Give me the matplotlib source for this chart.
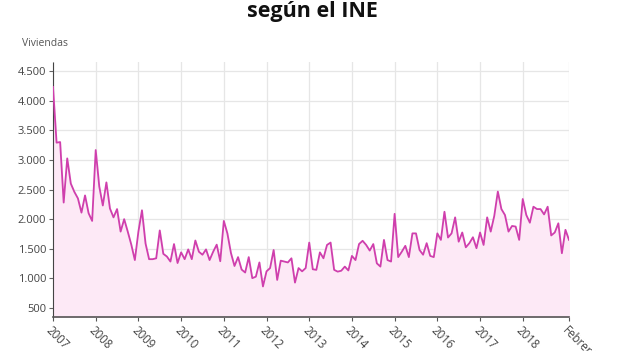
import matplotlib.pyplot as plt
import numpy as np

plt.rcParams['font.family'] = ['Open Sans', 'DejaVu Sans']

# monthly dwellings, Jan 2007 .. Feb 2019
viviendas = [
    4230, 3290, 3300, 2280, 3025, 2600, 2460, 2350, 2110, 2400, 2100, 1970,
    3165, 2550, 2230, 2620, 2180, 2030, 2170, 1790, 2000, 1790, 1570, 1310,
    1790, 2150, 1590, 1325, 1325, 1340, 1810, 1415, 1370, 1285, 1580, 1260,
    1440, 1325, 1490, 1325, 1640, 1450, 1400, 1490, 1310, 1450, 1570, 1290,
    1970, 1760, 1430, 1210, 1360, 1150, 1100, 1360, 1005, 1030, 1270, 865,
    1120, 1175, 1480, 975, 1300, 1285, 1270, 1340, 930, 1175, 1120, 1175,
    1605, 1155, 1145, 1440, 1340, 1565, 1605, 1145, 1115, 1130, 1200, 1135,
    1380, 1310, 1580, 1635, 1565, 1470, 1580, 1255, 1200, 1650, 1310, 1285,
    2090, 1360, 1450, 1550, 1360, 1760, 1760, 1480, 1400, 1595, 1380, 1360,
    1760, 1650, 2125, 1690, 1760, 2030, 1620, 1775, 1525, 1595, 1695, 1510,
    1775, 1565, 2030, 1790, 2055, 2465, 2170, 2070, 1790, 1885, 1875, 1650,
    2340, 2070, 1940, 2210, 2170, 2170, 2080, 2210, 1725, 1775, 1930, 1425,
    1820, 1650,
]
x_labels = ['2007', '2008', '2009', '2010', '2011', '2012', '2013', '2014',
            '2015', '2016', '2017', '2018', 'Febrero']
x_pos = list(range(0, 144, 12)) + [145]
y_ticks = [500, 1000, 1500, 2000, 2500, 3000, 3500, 4000, 4500]

line_color = '#cf3fad'
fill_color = '#fde9f6'

fig = plt.figure(figsize=(6.24, 3.51), dpi=100)
ax = fig.add_axes([53 / 624, 1 - 317 / 351, 516 / 624, 255 / 351])

months = np.arange(len(viviendas))
ax.fill_between(months, viviendas, 0, color=fill_color, zorder=1)
ax.plot(months, viviendas, color=line_color, lw=1.3, zorder=3)

ax.set_xlim(0, 145)
ax.set_ylim(350, 4650)
ax.set_yticks(y_ticks)
ax.set_yticklabels([f'{v:,}'.replace(',', '.') for v in y_ticks])
ax.set_xticks(x_pos)
ax.set_xticklabels(x_labels, rotation=-45, ha='left', va='top',
                   rotation_mode='anchor')

ax.grid(True, color='#e6e6e6', lw=0.9, zorder=0)
ax.set_axisbelow(True)
for s in ['top', 'right']:
    ax.spines[s].set_visible(False)
ax.spines['left'].set_color('#444444')
ax.spines['left'].set_linestyle((0, (1, 1)))
ax.spines['bottom'].set_color('#555555')
ax.spines['bottom'].set_linewidth(1.2)
ax.tick_params(axis='y', length=3, color='#666666', labelsize=8,
               labelcolor='#444444', pad=2)
ax.tick_params(axis='x', length=3, color='#555555', labelsize=8.3,
               labelcolor='#444444', pad=2)

fig.text(0.5, 1 - 12 / 351, 'según el INE', ha='center', va='center',
         fontsize=15.5, fontweight='bold', color='#111111')
fig.text(22 / 624, 1 - 43 / 351, 'Viviendas', ha='left', va='center',
         fontsize=7.5, color='#555555')

fig.savefig('out.png', dpi=100)
